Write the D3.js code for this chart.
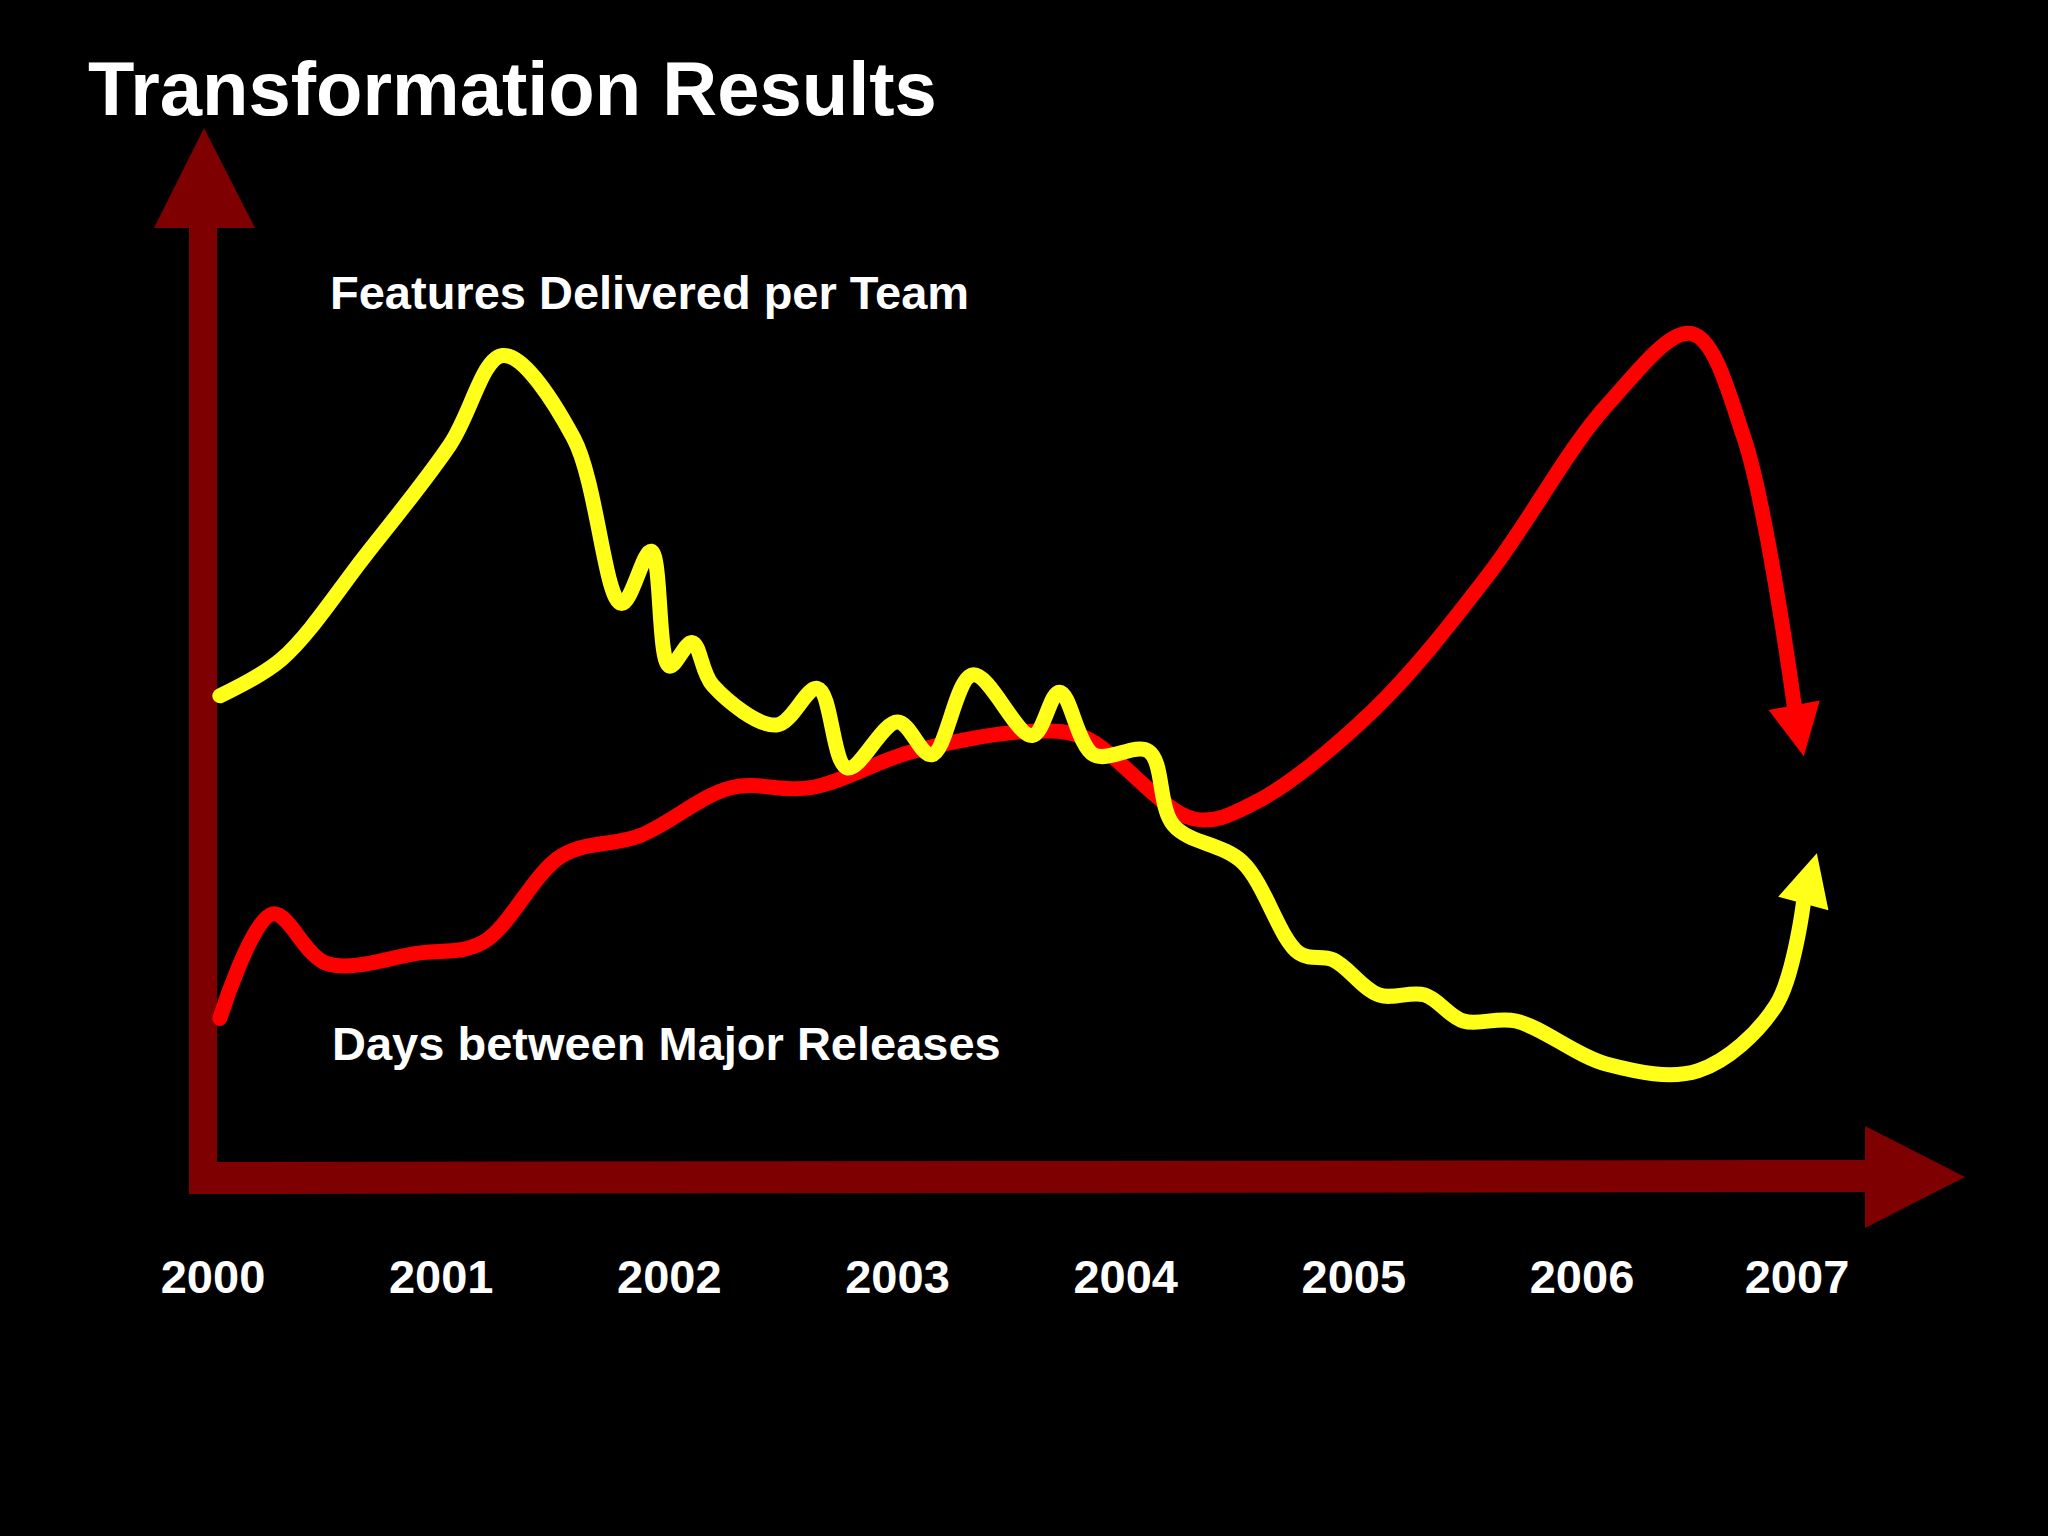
<!DOCTYPE html>
<html><head><meta charset="utf-8">
<script src="https://cdn.jsdelivr.net/npm/d3@7"></script>
<style>body{margin:0;background:#000}</style>
</head><body><div class="d3-container"></div>
<script>
const years = [2000, 2001, 2002, 2003, 2004, 2005, 2006, 2007];

const featYear = [2000.03,2000.3,2000.67,2001.04,2001.27,2001.58,2001.79,2001.92,2002.0,2002.1,2002.19,2002.47,2002.65,2002.78,2003.0,2003.15,2003.33,2003.59,2003.71,2003.86,2004.1,2004.21,2004.51,2004.76,2004.91,2005.11,2005.31,2005.48,2005.71,2006.11,2006.51,2006.85,2006.97];
const featVal  = [45.9,49.4,59.4,70,78.5,70.6,54.75,59.75,48.75,51,46.9,43.1,46.6,39,43.4,40.25,47.9,42.1,46.25,40.25,40.6,33.5,30,21.25,20.6,17.25,17.25,14.75,14.75,10.6,10,16.25,26];

const daysYear = [2000.03,2000.26,2000.5,2000.9,2001.18,2001.53,2001.87,2002.27,2002.62,2003.07,2003.59,2003.82,2004.3,2004.56,2005.08,2005.59,2006.11,2006.48,2006.71,2006.93];
const daysVal  = [15,25,20.25,21.25,22.25,30.6,32.5,37.1,37.1,40.6,42.5,41.9,34.1,35.6,44.4,57.5,73.75,80.6,70.6,45];

const W = 2048, H = 1536;
const svg = d3.select(".d3-container").append("svg").attr("width", W).attr("height", H);
svg.append("rect").attr("width", W).attr("height", H).attr("fill", "#000");

const x = d3.scaleLinear().domain([2000, 2006]).range([213, 1582]);
const y = d3.scaleLinear().domain([0, 100]).range([1175, 131]);

const axisCol = "#7f0000";
// vertical axis
svg.append("line").attr("x1", 203).attr("x2", 203).attr("y1", 1192).attr("y2", 220)
  .attr("stroke", axisCol).attr("stroke-width", 28);
svg.append("path").attr("d", "M154,228 L255,228 L204,128 Z").attr("fill", axisCol);
// horizontal axis
svg.append("line").attr("x1", 189).attr("x2", 1880).attr("y1", 1178).attr("y2", 1176)
  .attr("stroke", axisCol).attr("stroke-width", 32);
svg.append("path").attr("d", "M1865,1126 L1965,1177 L1865,1228 Z").attr("fill", axisCol);

svg.append("text").attr("x", 88).attr("y", 115).text("Transformation Results")
  .attr("fill", "#fff").attr("font-family", "Liberation Sans, Arial").attr("font-weight", "bold").attr("font-size", 76);

const lbl = (t, px, py) => svg.append("text").attr("x", px).attr("y", py).text(t)
  .attr("fill", "#fff").attr("font-family", "Liberation Sans, Arial").attr("font-weight", "bold").attr("font-size", 47);
lbl("Features Delivered per Team", 330, 309);
lbl("Days between Major Releases", 332, 1060);

svg.selectAll(".yr").data(years).join("text")
  .attr("x", (d, i) => i === 7 ? 1797 : x(d)).attr("y", 1293).attr("text-anchor", "middle")
  .text(d => d).attr("fill", "#fff").attr("font-family", "Liberation Sans, Arial")
  .attr("font-weight", "bold").attr("font-size", 47);

const line = d3.line().x(d => x(d[0])).y(d => y(d[1])).curve(d3.curveCatmullRom.alpha(0.5));

function series(xs, vs, col) {
  const pts = xs.map((d, i) => [d, vs[i]]);
  svg.append("path").attr("d", line(pts)).attr("fill", "none").attr("stroke", col)
    .attr("stroke-width", 15).attr("stroke-linecap", "round").attr("stroke-linejoin", "round");
  const a = pts[pts.length - 2], b = pts[pts.length - 1];
  const ax = x(a[0]), ay = y(a[1]), bx = x(b[0]), by = y(b[1]);
  const len = Math.hypot(bx - ax, by - ay), ux = (bx - ax) / len, uy = (by - ay) / len;
  const L = 52, hw = 26, tx = bx + ux * L, ty = by + uy * L;
  svg.append("path").attr("fill", col)
    .attr("d", `M${tx},${ty} L${bx - uy * hw},${by + ux * hw} L${bx + uy * hw},${by - ux * hw} Z`);
}
series(daysYear, daysVal, "#ff0000");
series(featYear, featVal, "#ffff1a");
</script></body></html>
